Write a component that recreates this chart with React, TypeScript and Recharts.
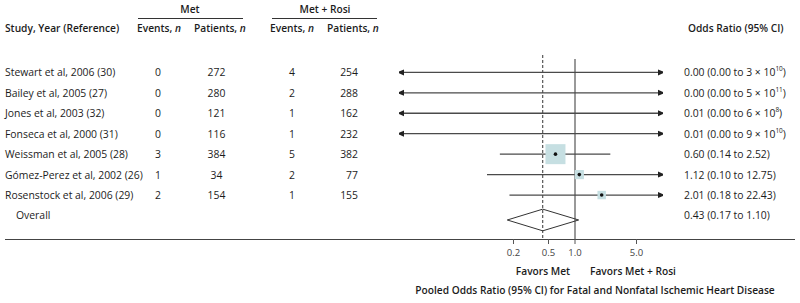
import React from 'react';
import { ComposedChart, Scatter, XAxis, YAxis, ReferenceLine, Customized } from 'recharts';

// ---- data ----
const studies = [
  'Stewart et al, 2006 (30)',
  'Bailey et al, 2005 (27)',
  'Jones et al, 2003 (32)',
  'Fonseca et al, 2000 (31)',
  'Weissman et al, 2005 (28)',
  'Gómez-Perez et al, 2002 (26)',
  'Rosenstock et al, 2006 (29)',
];
const metEvents = [0, 0, 0, 0, 3, 1, 2];
const metPatients = [272, 280, 121, 116, 384, 34, 154];
const rosiEvents = [4, 2, 1, 1, 5, 2, 1];
const rosiPatients = [254, 288, 162, 232, 382, 77, 155];
const oddsRatios = [0.0, 0.0, 0.01, 0.01, 0.6, 1.12, 2.01];
const ciLow = [0.0, 0.0, 0.0, 0.0, 0.14, 0.1, 0.18];
const ciHigh = [3e10, 5e11, 6e8, 9e10, 2.52, 12.75, 22.43];
const studyWeights = [0, 0, 0, 0, 62, 13, 11];
const overallLabel = 'Overall';
const overallOR = 0.43;
const overallLow = 0.17;
const overallHigh = 1.1;
const axisTicks = [0.2, 0.5, 1.0, 5.0];
const xDomain: [number, number] = [0.01, 10];

// ---- styling ----
const FONT = '"Open Sans", "DejaVu Sans", sans-serif';
const TEXT = '#1c1c1c';
const LINE = '#4a4a4a';
const SQUARE = '#c6dfe2';
const FS = 10.4;
const HFS = 10.2;

const overallIndex = studies.length;
const rowIdx = [...studies.map((_, i) => i), overallIndex];

function fmtHigh(v: number) {
  if (v >= 1e6) {
    const e = Math.floor(Math.log10(v));
    const m = Math.round(v / Math.pow(10, e));
    return { base: `${m} × 10`, exp: String(e) };
  }
  return { base: v.toFixed(2), exp: '' };
}

const ciSeries = studies.map((_, i) => {
  const loOut = ciLow[i] < xDomain[0];
  const hiOut = ciHigh[i] > xDomain[1];
  return [
    { x: loOut ? xDomain[0] : ciLow[i], y: i, arrow: loOut ? 'left' : '' },
    { x: hiOut ? xDomain[1] : ciHigh[i], y: i, arrow: hiOut ? 'right' : '' },
  ];
});

const pointData = studies
  .map((_, i) => ({ x: oddsRatios[i], y: i, w: studyWeights[i] }))
  .filter((d) => d.x >= xDomain[0] && d.w > 0);

const DIAMOND_OFFSET = 0.22;
const DIAMOND_HALF = 0.53;
const diamondData = [
  { x: overallLow, y: overallIndex + DIAMOND_OFFSET },
  { x: overallOR, y: overallIndex + DIAMOND_OFFSET - DIAMOND_HALF },
  { x: overallHigh, y: overallIndex + DIAMOND_OFFSET },
  { x: overallOR, y: overallIndex + DIAMOND_OFFSET + DIAMOND_HALF },
  { x: overallLow, y: overallIndex + DIAMOND_OFFSET },
];

const ArrowEnd = (p: any) => {
  const { cx, cy, payload } = p;
  if (payload.arrow === 'left') {
    return <polygon points={`${cx - 2},${cy} ${cx + 5},${cy - 3} ${cx + 5},${cy + 3}`} fill="#222" />;
  }
  if (payload.arrow === 'right') {
    return <polygon points={`${cx + 2},${cy} ${cx - 5},${cy - 3} ${cx - 5},${cy + 3}`} fill="#222" />;
  }
  return <g />;
};

const WeightedSquare = (p: any) => {
  const { cx, cy, payload } = p;
  const side = 2.54 * Math.sqrt(payload.w);
  return (
    <g>
      <rect x={cx - side / 2} y={cy - side / 2} width={side} height={side} fill={SQUARE} />
      <circle cx={cx} cy={cy} r={1.8} fill="#111" />
    </g>
  );
};

const NoShape = () => <g />;

const LeftTick = (p: any) => {
  const { y, payload } = p;
  const i = payload.value;
  const common = { fontFamily: FONT, fontSize: FS, fill: TEXT, dominantBaseline: 'central' as const };
  if (i === overallIndex) {
    return (
      <text x={16} y={y} {...common}>
        {overallLabel}
      </text>
    );
  }
  return (
    <g>
      <text x={5} y={y} {...common}>{studies[i]}</text>
      <text x={155} y={y} {...common}>{metEvents[i]}</text>
      <text x={216.5} y={y} textAnchor="middle" {...common}>{metPatients[i]}</text>
      <text x={289} y={y} {...common}>{rosiEvents[i]}</text>
      <text x={358} y={y} textAnchor="end" {...common}>{rosiPatients[i]}</text>
    </g>
  );
};

const RightTick = (p: any) => {
  const { y, payload } = p;
  const i = payload.value;
  const or = i === overallIndex ? overallOR : oddsRatios[i];
  const lo = i === overallIndex ? overallLow : ciLow[i];
  const hi = fmtHigh(i === overallIndex ? overallHigh : ciHigh[i]);
  return (
    <text x={684} y={y} fontFamily={FONT} fontSize={FS} fill={TEXT} dominantBaseline="central">
      {`${or.toFixed(2)} (${lo.toFixed(2)} to ${hi.base}`}
      {hi.exp ? (
        <tspan fontSize={6.5} dy={-4}>
          {hi.exp}
        </tspan>
      ) : null}
      {hi.exp ? <tspan dy={4}>)</tspan> : ')'}
    </text>
  );
};

const Overlay = () => {
  const hdr = { fontFamily: FONT, fontSize: HFS, fill: TEXT, fontWeight: 600, dominantBaseline: 'central' as const };
  return (
    <g>
      <text x={190} y={9} textAnchor="middle" {...hdr}>Met</text>
      <line x1={138} x2={243} y1={18.5} y2={18.5} stroke="#333" strokeWidth={1} />
      <text x={325} y={9} textAnchor="middle" {...hdr}>Met + Rosi</text>
      <line x1={272} x2={377} y1={18.5} y2={18.5} stroke="#333" strokeWidth={1} />
      <text x={5} y={28} {...hdr}>Study, Year (Reference)</text>
      <text x={137} y={28} {...hdr}>Events, <tspan fontStyle="italic">n</tspan></text>
      <text x={194} y={28} {...hdr}>Patients, <tspan fontStyle="italic">n</tspan></text>
      <text x={270} y={28} {...hdr}>Events, <tspan fontStyle="italic">n</tspan></text>
      <text x={327} y={28} {...hdr}>Patients, <tspan fontStyle="italic">n</tspan></text>
      <text x={688} y={28} {...hdr}>Odds Ratio (95% CI)</text>
      <line x1={5} x2={795} y1={239.5} y2={239.5} stroke="#444" strokeWidth={1.2} />
      <text x={543} y={271} textAnchor="middle" {...hdr}>Favors Met</text>
      <text x={633} y={271} textAnchor="middle" {...hdr}>Favors Met + Rosi</text>
      <text x={595} y={290} textAnchor="middle" {...hdr}>Pooled Odds Ratio (95% CI) for Fatal and Nonfatal Ischemic Heart Disease</text>
    </g>
  );
};

export default function App() {
  return (
    <div style={{ position: 'absolute', left: 0, top: 0, background: '#fff' }}>
      <ComposedChart width={800} height={303} margin={{ top: 55, right: 0, bottom: 44, left: 0 }}>
        <XAxis
          dataKey="x"
          type="number"
          scale="log"
          domain={xDomain}
          allowDataOverflow
          ticks={axisTicks}
          tickFormatter={(v: number) => v.toFixed(1)}
          axisLine={false}
          tickLine={{ stroke: '#555' }}
          tickSize={5}
          tickMargin={5}
          height={20}
          tick={{ fontFamily: FONT, fontSize: 9.5, fill: '#444' }}
          interval={0}
        />
        <YAxis
          yAxisId="left"
          orientation="left"
          dataKey="y"
          type="number"
          domain={[-0.85, 8.15]}
          allowDataOverflow
          reversed
          ticks={rowIdx}
          interval={0}
          width={399}
          axisLine={false}
          tickLine={false}
          tick={<LeftTick />}
        />
        <YAxis
          yAxisId="right"
          orientation="right"
          dataKey="y"
          type="number"
          domain={[-0.85, 8.15]}
          allowDataOverflow
          reversed
          ticks={rowIdx}
          interval={0}
          width={137}
          axisLine={false}
          tickLine={false}
          tick={<RightTick />}
        />
        <ReferenceLine
          yAxisId="left"
          segment={[{ x: overallOR, y: -0.85 }, { x: overallOR, y: 8.15 }]}
          stroke="#333"
          strokeWidth={1}
          strokeDasharray="3 2"
        />
        <ReferenceLine
          yAxisId="left"
          segment={[{ x: 1, y: -0.65 }, { x: 1, y: 8.15 }]}
          stroke="#999"
          strokeWidth={2}
        />
        {ciSeries.map((d, i) => (
          <Scatter
            key={i}
            yAxisId="left"
            data={d}
            line={{ stroke: LINE, strokeWidth: 1.3 }}
            shape={<ArrowEnd />}
            isAnimationActive={false}
          />
        ))}
        <Scatter yAxisId="left" data={pointData} shape={<WeightedSquare />} isAnimationActive={false} />
        <Scatter
          yAxisId="left"
          data={diamondData}
          line={{ stroke: '#333', strokeWidth: 1 }}
          shape={<NoShape />}
          isAnimationActive={false}
        />
        <Customized component={Overlay} />
      </ComposedChart>
    </div>
  );
}
